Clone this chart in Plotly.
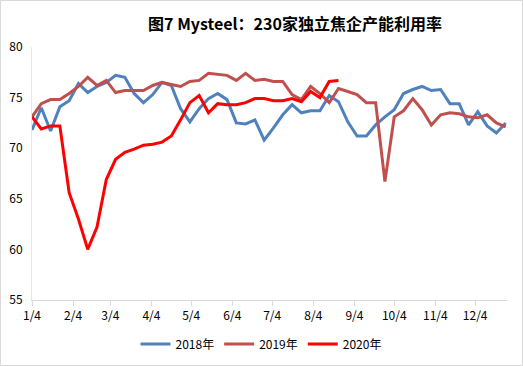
import datetime as dt
import plotly.graph_objects as go

start = dt.date(2018, 1, 4)
weeks = [start + dt.timedelta(days=7 * k) for k in range(52)]

s2018 = [71.8, 74.0, 71.7, 74.1, 74.7, 76.4, 75.5, 76.1, 76.5, 77.2,
         77.0, 75.4, 74.5, 75.3, 76.5, 76.2, 73.9, 72.6, 73.9, 74.9,
         75.4, 74.8, 72.5, 72.4, 72.8, 70.8, 72.0, 73.3, 74.3, 73.5,
         73.7, 73.7, 75.2, 74.6, 72.6, 71.2, 71.2, 72.3, 73.1, 73.8,
         75.4, 75.8, 76.1, 75.7, 75.8, 74.4, 74.4, 72.3, 73.6, 72.2,
         71.5, 72.5]
s2019 = [73.1, 74.4, 74.8, 74.8, 75.4, 76.1, 77.0, 76.2, 76.7, 75.5,
         75.7, 75.7, 75.7, 76.2, 76.5, 76.3, 76.1, 76.6, 76.7, 77.4,
         77.3, 77.2, 76.7, 77.4, 76.7, 76.8, 76.6, 76.6, 75.3, 74.8,
         76.1, 75.4, 74.5, 75.9, 75.6, 75.3, 74.5, 74.5, 66.7, 73.1,
         73.7, 74.9, 73.8, 72.3, 73.3, 73.5, 73.4, 73.1, 73.0, 73.3,
         72.5, 72.1]
s2020 = [73.1, 71.9, 72.2, 72.2, 65.6, 63.0, 60.0, 62.2, 66.9, 68.9,
         69.6, 69.9, 70.3, 70.4, 70.6, 71.2, 72.8, 74.5, 75.2, 73.5,
         74.4, 74.3, 74.3, 74.5, 74.9, 74.9, 74.7, 74.7, 74.9, 74.6,
         75.6, 75.0, 76.6, 76.7]

series_names = ["2018年", "2019年", "2020年"]
colors = ["#4F81BD", "#C0504D", "#FF0000"]

tick_dates = [dt.date(2018, m, 4) for m in range(1, 13)]
tick_labels = [f"{m}/4" for m in range(1, 13)]
y_ticks = [55, 60, 65, 70, 75, 80]

title_text = "图7 Mysteel：230家独立焦企产能利用率"

W, H = 523, 366
ML, MR, MT, MB = 32, 16, 47, 66
PW, PH = W - ML - MR, H - MT - MB

font_family = "Noto Sans CJK SC, Noto Sans, sans-serif"

fig = go.Figure()
for name, vals, col in zip(series_names, [s2018, s2019, s2020], colors):
    fig.add_trace(go.Scatter(
        x=weeks[:len(vals)], y=vals, mode="lines", name=name,
        line=dict(color=col, width=3),
    ))

fig.update_layout(
    width=W, height=H,
    margin=dict(l=ML, r=MR, t=MT, b=MB, pad=0, autoexpand=False),
    paper_bgcolor="white", plot_bgcolor="white",
    font=dict(family=font_family, size=12, color="#000000"),
    title=dict(text="<b>" + title_text + "</b>", x=295 / W, xanchor="center",
               y=1 - 24 / H, yanchor="middle",
               font=dict(family=font_family, size=16, color="#000000"),
               automargin=False),
    showlegend=True,
    legend=dict(orientation="h", x=(261 - ML) / PW, xanchor="center",
                y=(300 - 344) / PH, yanchor="middle",
                itemwidth=30, font=dict(size=12), tracegroupgap=0,
                bgcolor="rgba(0,0,0,0)"),
    xaxis=dict(
        type="date", automargin=False,
        range=[dt.date(2018, 1, 4), dt.date(2018, 12, 28)],
        tickvals=tick_dates, ticktext=tick_labels,
        showgrid=False, zeroline=False,
        showline=True, linecolor="#D9D9D9", linewidth=1,
        ticks="outside", ticklen=5, tickcolor="#D9D9D9",
        tickfont=dict(size=12, color="#000000"),
    ),
    yaxis=dict(
        range=[55, 80], tickvals=y_ticks, automargin=False,
        showgrid=False, zeroline=False,
        showline=True, linecolor="#EAE6D8", linewidth=1,
        ticks="", ticklabelstandoff=6,
        tickfont=dict(size=12, color="#000000"),
    ),
    shapes=[dict(type="rect", xref="paper", yref="paper",
                 x0=(0.5 - ML) / PW, x1=(W - 0.5 - ML) / PW,
                 y0=-(MB - 0.5) / PH, y1=1 + (MT - 0.5) / PH,
                 line=dict(color="#D9D9D9", width=1), layer="below")],
)

fig.write_html(
    "out.html",
    config={"displayModeBar": False},
    post_script="document.body.style.margin='0';document.body.style.overflow='hidden';",
)
